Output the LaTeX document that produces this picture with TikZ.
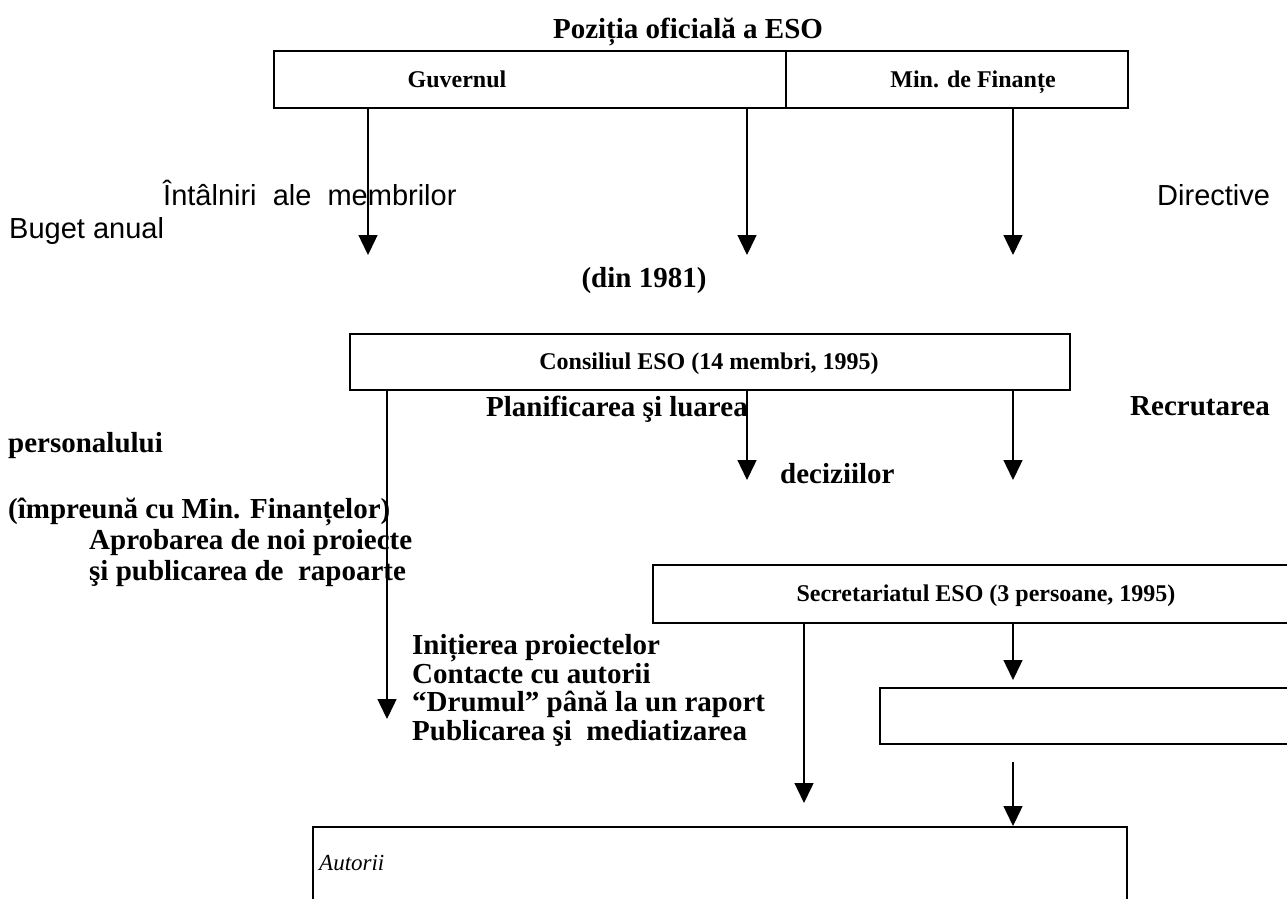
\documentclass[tikz,border=0pt]{standalone}
\usepackage{fontspec}
\setmainfont{Liberation Serif}
\setsansfont{Liberation Sans}
\usetikzlibrary{arrows.meta}
\begin{document}
\begin{tikzpicture}[x=1pt,y=-1pt,
  box/.style={draw, line width=1.6pt, inner sep=0pt, anchor=north west},
  arr/.style={line width=1.4pt, -{Triangle[width=19pt,length=20pt]}},
  bt/.style={font=\fontsize{29}{29}\selectfont\bfseries, anchor=base west, inner sep=0pt},
  st/.style={font=\fontsize{29}{29}\selectfont\sffamily, anchor=base west, inner sep=0pt},
  boxt/.style={font=\fontsize{24}{24}\selectfont\bfseries, anchor=base, inner sep=0pt}]
\useasboundingbox (0,0) rectangle (1287,898);
\clip (0,0) rectangle (1287,898);
% title
\node[bt, anchor=base] (title) at (688,38) {Poziția oficială a ESO};
% top boxes
\node[box, minimum width=512pt, minimum height=57pt] (guv) at (273,50) {};
\node[box, minimum width=342pt, minimum height=57pt] (minf) at (785,50) {};
\node[boxt] (guvt) at (457,87) {Guvernul};
\node[boxt] (minft) at (973,87) {Min. de Finanțe};
\coordinate (a1) at (368,255);
\coordinate (a2) at (747,255);
\coordinate (a3) at (1013,255);
\draw[arr] (guv.south -| a1) -- (a1);
\draw[arr] (guv.south -| a2) -- (a2);
\draw[arr] (minf.south -| a3) -- (a3);
\node[st] (intal) at (163,205) {Întâlniri\ \ ale\ \ membrilor};
\node[st] (buget) at (9,238) {Buget anual};
\node[st] (direct) at (1157,205) {Directive};
\node[bt, anchor=base] (din) at (644,287) {(din 1981)};
% consiliul
\node[box, minimum width=720pt, minimum height=56pt] (cons) at (349,333) {};
\node[boxt] (const) at (709,369) {Consiliul ESO (14 membri, 1995)};
\coordinate (b1) at (387,719);
\coordinate (b2) at (747,480);
\coordinate (b3) at (1013,480);
\draw[arr] (cons.south -| b1) -- (b1);
\draw[arr] (cons.south -| b2) -- (b2);
\draw[arr] (cons.south -| b3) -- (b3);
\node[bt] (plan) at (486,416) {Planificarea şi luarea};
\node[bt] (recr) at (1130,415) {Recrutarea};
\node[bt] (pers) at (8,452) {personalului};
\node[bt] (dec) at (780,483) {deciziilor};
\node[bt] (impr) at (8,518) {(împreună cu Min. Finanțelor)};
\node[bt] (apro) at (89,549) {Aprobarea de noi proiecte};
\node[bt] (publ) at (89,580) {şi publicarea de\ \ rapoarte};
% secretariat
\node[box, minimum width=700pt, minimum height=58pt] (sec) at (652,564) {};
\node[boxt] (sect) at (986,601) {Secretariatul ESO (3 persoane, 1995)};
\node[box, minimum width=450pt, minimum height=56pt] (small) at (879,687) {};
\coordinate (c1) at (1013,680);
\coordinate (c2) at (804,803);
\draw[arr] (sec.south -| c1) -- (c1);
\draw[arr] (sec.south -| c2) -- (c2);
\node[bt] (init) at (412,654) {Inițierea proiectelor};
\node[bt] (cont) at (412,683) {Contacte cu autorii};
\node[bt] (drum) at (412,711) {“Drumul” până la un raport};
\node[bt] (pubm) at (412,740) {Publicarea şi\ \ mediatizarea};
% autorii
\node[box, minimum width=814pt, minimum height=200pt] (aut) at (312,826) {};
\node[font=\fontsize{23}{23}\selectfont\itshape, anchor=base west, inner sep=0pt] (autt) at (319,870) {Autorii};
\coordinate (s1) at (1013,762);
\draw[arr] (s1) -- (aut.north -| s1);
\end{tikzpicture}
\end{document}
